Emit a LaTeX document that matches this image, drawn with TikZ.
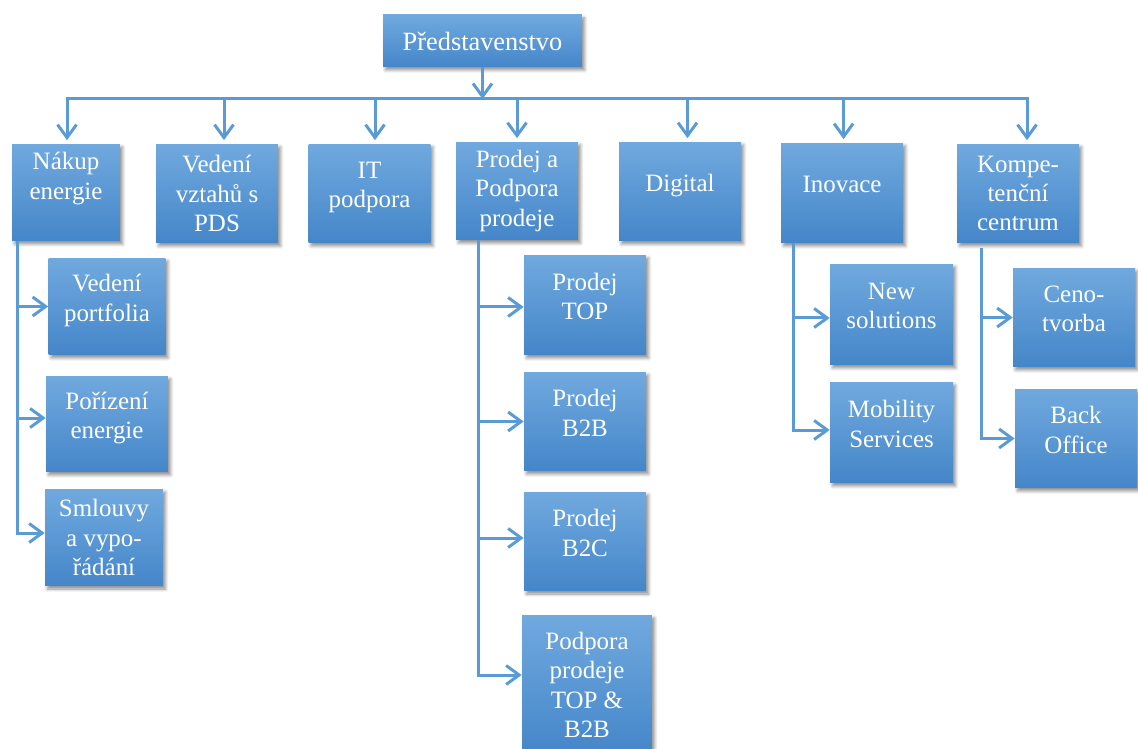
\documentclass[tikz,border=0pt]{standalone}
\usepackage{fontspec}
\setmainfont{Liberation Serif}
\usetikzlibrary{arrows.meta,shadows.blur}

\definecolor{boxtop}{HTML}{70A9DE}
\definecolor{boxbottom}{HTML}{4586C9}
\definecolor{linkblue}{HTML}{5B9BD5}

\begin{document}
\begin{tikzpicture}[x=0.02cm, y=-0.02cm,
	unit/.style={rectangle, top color=boxtop, bottom color=boxbottom, text=white, align=center,
		minimum width=2.44cm, minimum height=1.98cm, inner sep=2pt,
		font=\fontsize{14.2}{16.7}\selectfont,
		blur shadow={shadow xshift=0.05cm, shadow yshift=-0.06cm, shadow blur steps=6, shadow opacity=45}},
	lifted/.style={text depth=10pt},
	trunk/.style={draw=linkblue, line width=0.06cm, line cap=rect},
	link/.style={draw=linkblue, line width=0.06cm, -{Straight Barb[length=0.26cm, width=0.38cm]}}]
\useasboundingbox (0,0) rectangle (1138,749);

\node[unit, minimum width=3.98cm, minimum height=1.04cm, font=\fontsize{15}{17}\selectfont] (board) at (482.5,41) {Představenstvo};

\node[unit, minimum width=2.16cm, minimum height=1.94cm, text depth=19pt] (nakup) at (66,192.5) {Nákup\\energie};
\node[unit] (vztahy) at (217,193.5) {Vedení\\vztahů s\\PDS};
\node[unit, lifted] (it) at (369.5,193.5) {IT\\podpora};
\node[unit, minimum height=1.96cm] (prodej) at (517,191) {Prodej a\\Podpora\\prodeje};
\node[unit, lifted] (digital) at (680,191.5) {Digital};
\node[unit, lifted, minimum height=2cm] (inovace) at (842,193) {Inovace};
\node[unit] (kompetence) at (1018,193.5) {Kompe-\\tenční\\centrum};

\node[unit, lifted, minimum width=2.34cm, minimum height=1.94cm] (portfolio) at (107,306.5) {Vedení\\portfolia};
\node[unit, lifted, minimum height=1.92cm] (porizeni) at (107,424) {Pořízení\\energie};
\node[unit, minimum width=2.36cm, minimum height=1.94cm] (smlouvy) at (104,537.5) {Smlouvy\\a vypo-\\řádání};

\node[unit, lifted, minimum height=2cm] (prodejtop) at (585,305) {Prodej\\TOP};
\node[unit, lifted] (btob) at (585,421.5) {Prodej\\B2B};
\node[unit, lifted] (btoc) at (585,541.5) {Prodej\\B2C};
\node[unit, minimum width=2.6cm, minimum height=2.8cm] (podpora) at (587,685) {Podpora\\prodeje\\TOP \&\\B2B};

\node[unit, lifted, minimum width=2.46cm, minimum height=2.02cm] (newsol) at (891.5,314.5) {New\\solutions};
\node[unit, lifted, minimum width=2.46cm, minimum height=2.02cm] (mobility) at (891.5,432.5) {Mobility\\Services};

\node[unit, lifted] (ceno) at (1074,317.5) {Ceno-\\tvorba};
\node[unit, lifted] (back) at (1076,438.5) {Back\\Office};

\coordinate (bus) at (0,99);
\draw[link] (board.south) -- (board.south |- bus);
\foreach \n/\s in {nakup/1,vztahy/7,it/5.5,prodej/0,digital/7.5,inovace/1.6,kompetence/9}{
	\coordinate (drop\n) at ([xshift=\s*0.02cm, yshift=0.07cm]\n.north);
	\draw[link] (bus -| drop\n) -- (drop\n);
}
\draw[trunk] (bus -| dropnakup) -- (bus -| dropkompetence);

\coordinate (nakupspine) at ([xshift=0.11cm]nakup.south west);
\foreach \c/\s in {portfolio/0,porizeni/6,smlouvy/4.5}
	\draw[link] (nakupspine) |- ([yshift=\s*0.02cm]\c.west);

\coordinate (prodejspine) at ([xshift=0.46cm]prodej.south west);
\foreach \c/\s in {prodejtop/-2,btob/0,btoc/3.5,podpora/10}
	\draw[link] (prodejspine) |- ([yshift=\s*0.02cm]\c.west);

\coordinate (inovacespine) at ([xshift=0.26cm]inovace.south west);
\foreach \c/\s in {newsol/-3.5,mobility/2.5}
	\draw[link] (inovacespine) |- ([yshift=\s*0.02cm]\c.west);

\coordinate (kompetencespine) at ([xshift=0.5cm, yshift=-0.1cm]kompetence.south west);
\foreach \c in {ceno,back}
	\draw[link] (kompetencespine) |- (\c.west);
\end{tikzpicture}
\end{document}
